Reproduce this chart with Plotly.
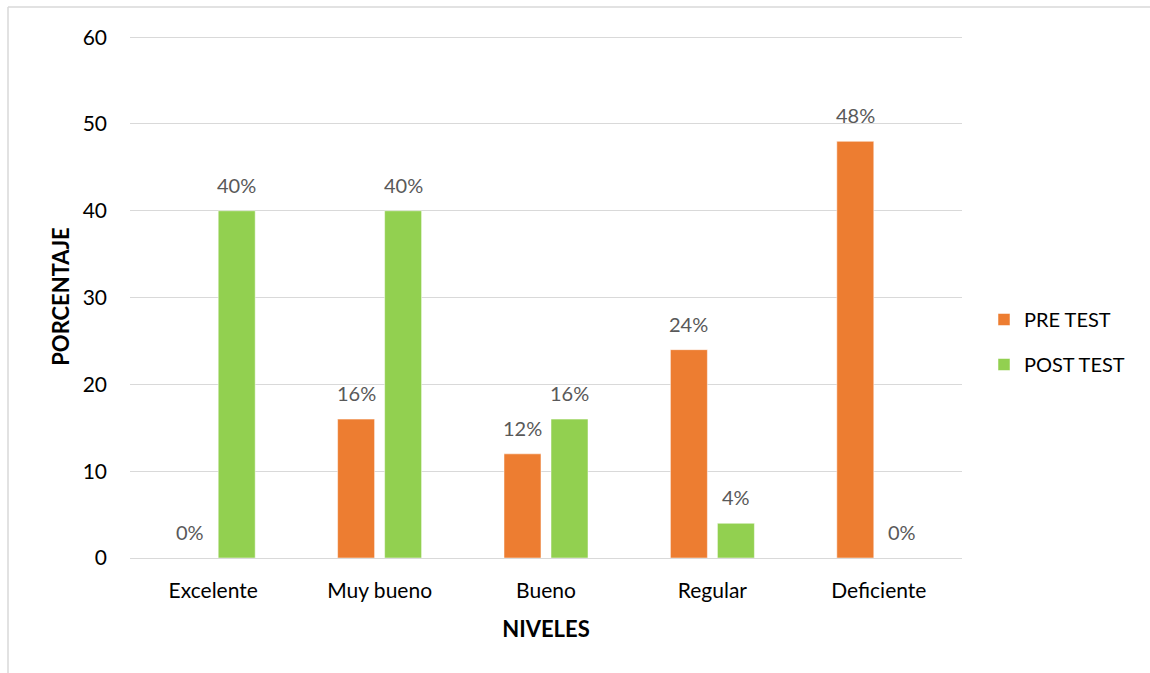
import plotly.graph_objects as go

niveles = ["Excelente", "Muy bueno", "Bueno", "Regular", "Deficiente"]
pre_test = [0, 16, 12, 24, 48]
post_test = [40, 40, 16, 4, 0]
y_ticks = [0, 10, 20, 30, 40, 50, 60]

FONT = "Lato, Calibri, Carlito, sans-serif"
ORANGE = "#ED7D31"
GREEN = "#92D050"
GRID = "#D9D9D9"

W, H = 1150, 673
ML, MR, MT, MB = 130, 188, 35, 115
BARGAP = 0.435
BARGROUPGAP = 0.213
plot_w = W - ML - MR
plot_h = H - MT - MB

fig = go.Figure()
fig.add_trace(go.Bar(name="PRE TEST", x=niveles, y=pre_test,
                     marker=dict(color=ORANGE, line=dict(color="white", width=0.5)),
                     legendgroup="pre"))
fig.add_trace(go.Bar(name="POST TEST", x=niveles, y=post_test,
                     marker=dict(color=GREEN, line=dict(color="white", width=0.5)),
                     legendgroup="post"))

# value labels above each bar, shifted to its slot within the group
slot = plot_w / len(niveles) * (1 - BARGAP) / 2
for series, shift in ((pre_test, -slot / 2), (post_test, slot / 2)):
    for cat, val in zip(niveles, series):
        fig.add_annotation(x=cat, y=val, text=f"{val}%", showarrow=False,
                           xshift=shift, yanchor="bottom", yshift=12,
                           font=dict(family=FONT, size=20, color="#595959"))

# light frame along the top and left edges
x_left = (8 - ML) / plot_w
y_top = 1 + (MT - 7) / plot_h
fig.add_shape(type="line", xref="paper", yref="paper", x0=x_left, x1=(W - ML) / plot_w,
              y0=y_top, y1=y_top, line=dict(color=GRID, width=1.5))
fig.add_shape(type="line", xref="paper", yref="paper", x0=x_left, x1=x_left,
              y0=y_top, y1=-MB / plot_h, line=dict(color=GRID, width=1.5))

fig.update_layout(
    width=W, height=H,
    margin=dict(l=ML, r=MR, t=MT, b=MB),
    paper_bgcolor="white", plot_bgcolor="white",
    barmode="group", bargap=BARGAP, bargroupgap=BARGROUPGAP,
    font=dict(family=FONT, size=21, color="#000000"),
    legend=dict(x=(984 - ML) / plot_w, y=(558 - 342) / plot_h,
                xanchor="left", yanchor="middle",
                font=dict(family=FONT, size=20, color="#000000"),
                tracegroupgap=16, bgcolor="rgba(0,0,0,0)"),
    xaxis=dict(showgrid=False, showline=False, ticks="",
               ticklabelstandoff=18,
               tickfont=dict(family=FONT, size=21, color="#000000"),
               title=dict(text="<b>NIVELES</b>", standoff=20,
                          font=dict(family=FONT, size=22, color="#000000"))),
    yaxis=dict(range=[0, 60.25], tickvals=y_ticks, showgrid=True, gridcolor=GRID,
               gridwidth=1, zeroline=True, zerolinecolor=GRID, zerolinewidth=1,
               showline=False, ticks="", ticklabelstandoff=22,
               tickfont=dict(family=FONT, size=21, color="#000000"),
               title=dict(text="<b>PORCENTAJE</b>", standoff=6,
                          font=dict(family=FONT, size=22, color="#000000"))),
)

fig.write_html("out.html")
